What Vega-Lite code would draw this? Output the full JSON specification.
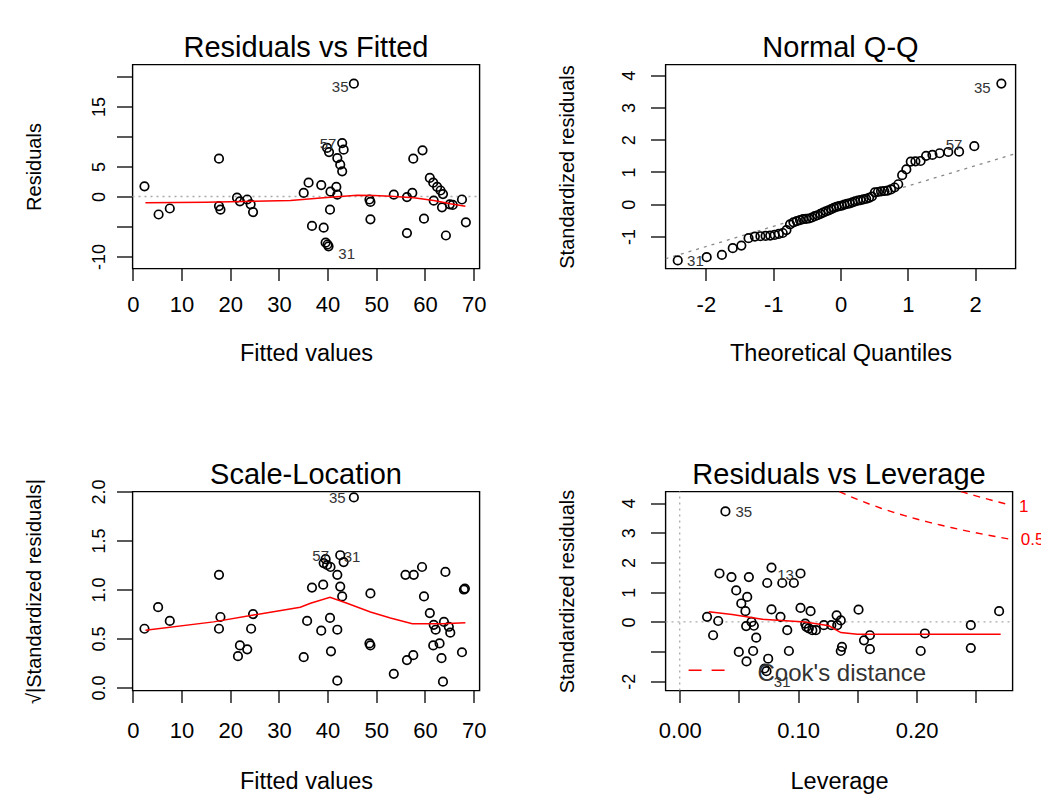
{
  "$schema": "https://vega.github.io/schema/vega-lite/v6.json",
  "background": "white",
  "padding": {"left": 23.5, "top": 32.5, "right": 0, "bottom": 0},
  "columns": 2,
  "spacing": {"row": 223, "column": 186},
  "bounds": "flush",
  "datasets": {
    "rvf": [
      {"fitted": 2.4, "resid": 1.7}, {"fitted": 5.3, "resid": -3.0}, {"fitted": 7.6, "resid": -2.0}, {"fitted": 17.7, "resid": 6.3},
      {"fitted": 17.7, "resid": -1.6}, {"fitted": 18.0, "resid": -2.2}, {"fitted": 21.4, "resid": -0.2}, {"fitted": 22.0, "resid": -0.8},
      {"fitted": 23.5, "resid": -0.5}, {"fitted": 24.2, "resid": -1.3}, {"fitted": 24.7, "resid": -2.6},
      {"fitted": 45.4, "resid": 18.8}, {"fitted": 39.9, "resid": 8.1}, {"fitted": 40.3, "resid": 7.4}, {"fitted": 43.0, "resid": 8.9},
      {"fitted": 43.3, "resid": 7.8}, {"fitted": 42.0, "resid": 6.4}, {"fitted": 42.6, "resid": 5.3}, {"fitted": 43.0, "resid": 4.2},
      {"fitted": 36.1, "resid": 2.3}, {"fitted": 35.1, "resid": 0.6}, {"fitted": 38.7, "resid": 1.9}, {"fitted": 41.8, "resid": 1.6},
      {"fitted": 40.6, "resid": 0.8}, {"fitted": 42.0, "resid": 0.3}, {"fitted": 40.5, "resid": -2.2},
      {"fitted": 36.8, "resid": -4.9}, {"fitted": 39.2, "resid": -5.2}, {"fitted": 39.6, "resid": -7.7}, {"fitted": 40.0, "resid": -8.0},
      {"fitted": 40.2, "resid": -8.3},
      {"fitted": 48.6, "resid": -0.5}, {"fitted": 48.8, "resid": -0.9}, {"fitted": 48.8, "resid": -3.8},
      {"fitted": 53.6, "resid": 0.3}, {"fitted": 56.3, "resid": -0.1}, {"fitted": 57.4, "resid": 0.6}, {"fitted": 56.3, "resid": -6.1},
      {"fitted": 57.6, "resid": 6.3}, {"fitted": 59.5, "resid": 7.7}, {"fitted": 59.8, "resid": -3.7}, {"fitted": 61.0, "resid": 3.1},
      {"fitted": 61.7, "resid": 2.3}, {"fitted": 62.5, "resid": 1.6}, {"fitted": 63.2, "resid": 1.0}, {"fitted": 63.7, "resid": 0.4},
      {"fitted": 61.8, "resid": -0.7}, {"fitted": 63.5, "resid": -1.8}, {"fitted": 65.1, "resid": -1.3}, {"fitted": 65.7, "resid": -1.4},
      {"fitted": 64.3, "resid": -6.5}, {"fitted": 67.6, "resid": -0.5}, {"fitted": 68.4, "resid": -4.3}
    ],
    "rvf_zero": [{"fitted": -0.06, "resid": 0}, {"fitted": 71.2, "resid": 0}],
    "rvf_smooth": [
      {"fitted": 2.6, "resid": -1.05}, {"fitted": 15, "resid": -0.95}, {"fitted": 25, "resid": -0.8}, {"fitted": 32.4, "resid": -0.67},
      {"fitted": 39.2, "resid": -0.22}, {"fitted": 46.1, "resid": 0.22}, {"fitted": 49.5, "resid": 0.17}, {"fitted": 52.9, "resid": 0.06},
      {"fitted": 57.7, "resid": -0.22}, {"fitted": 61.8, "resid": -0.67}, {"fitted": 65.2, "resid": -1.22}, {"fitted": 68.3, "resid": -1.61}
    ],
    "rvf_lab_r": [{"fitted": 44.3, "resid": 18.33, "label": "35"}, {"fitted": 41.8, "resid": 8.83, "label": "57"}],
    "rvf_lab_l": [{"fitted": 42.2, "resid": -9.5, "label": "31"}],
    "qq": [
      {"q": -2.418, "s": -1.74}, {"q": -1.988, "s": -1.64}, {"q": -1.762, "s": -1.57}, {"q": -1.601, "s": -1.36},
      {"q": -1.473, "s": -1.28}, {"q": -1.366, "s": -1.05}, {"q": -1.272, "s": -1.0}, {"q": -1.19, "s": -0.99},
      {"q": -1.113, "s": -0.98}, {"q": -1.044, "s": -0.97}, {"q": -0.978, "s": -0.95}, {"q": -0.916, "s": -0.92},
      {"q": -0.858, "s": -0.89}, {"q": -0.803, "s": -0.8}, {"q": -0.75, "s": -0.62}, {"q": -0.699, "s": -0.56},
      {"q": -0.65, "s": -0.52}, {"q": -0.602, "s": -0.49}, {"q": -0.556, "s": -0.46}, {"q": -0.511, "s": -0.45},
      {"q": -0.467, "s": -0.44}, {"q": -0.424, "s": -0.41}, {"q": -0.381, "s": -0.37}, {"q": -0.34, "s": -0.34},
      {"q": -0.298, "s": -0.3}, {"q": -0.258, "s": -0.26}, {"q": -0.217, "s": -0.22}, {"q": -0.177, "s": -0.19},
      {"q": -0.137, "s": -0.15}, {"q": -0.098, "s": -0.11}, {"q": -0.059, "s": -0.08}, {"q": -0.02, "s": -0.06},
      {"q": 0.02, "s": -0.04}, {"q": 0.059, "s": -0.01}, {"q": 0.098, "s": 0.01}, {"q": 0.137, "s": 0.03},
      {"q": 0.177, "s": 0.06}, {"q": 0.217, "s": 0.09}, {"q": 0.258, "s": 0.11}, {"q": 0.298, "s": 0.13},
      {"q": 0.34, "s": 0.15}, {"q": 0.381, "s": 0.17}, {"q": 0.424, "s": 0.2}, {"q": 0.467, "s": 0.24},
      {"q": 0.511, "s": 0.37}, {"q": 0.556, "s": 0.38}, {"q": 0.602, "s": 0.4}, {"q": 0.65, "s": 0.41},
      {"q": 0.699, "s": 0.42}, {"q": 0.75, "s": 0.46}, {"q": 0.803, "s": 0.52}, {"q": 0.858, "s": 0.62},
      {"q": 0.916, "s": 0.9}, {"q": 0.978, "s": 1.08}, {"q": 1.044, "s": 1.32}, {"q": 1.113, "s": 1.33},
      {"q": 1.19, "s": 1.34}, {"q": 1.272, "s": 1.5}, {"q": 1.366, "s": 1.53}, {"q": 1.473, "s": 1.58},
      {"q": 1.601, "s": 1.62}, {"q": 1.762, "s": 1.63}, {"q": 1.988, "s": 1.8}, {"q": 2.39, "s": 3.74}
    ],
    "qq_line": [{"q": -2.6, "s": -1.688}, {"q": 2.6, "s": 1.568}],
    "qq_lab_r": [{"q": 2.23, "s": 3.6, "label": "35"}, {"q": 1.81, "s": 1.83, "label": "57"}],
    "qq_lab_l": [{"q": -2.28, "s": -1.76, "label": "31"}],
    "sl": [
      {"fitted": 2.4, "root": 0.6}, {"fitted": 5.2, "root": 0.82}, {"fitted": 7.6, "root": 0.68}, {"fitted": 17.7, "root": 1.15},
      {"fitted": 18.0, "root": 0.72}, {"fitted": 17.7, "root": 0.6}, {"fitted": 24.7, "root": 0.75}, {"fitted": 24.3, "root": 0.6},
      {"fitted": 22.0, "root": 0.43}, {"fitted": 23.5, "root": 0.39}, {"fitted": 21.6, "root": 0.32},
      {"fitted": 45.4, "root": 1.94}, {"fitted": 39.2, "root": 1.27}, {"fitted": 39.9, "root": 1.25}, {"fitted": 40.6, "root": 1.23},
      {"fitted": 42.6, "root": 1.35}, {"fitted": 43.3, "root": 1.28}, {"fitted": 39.6, "root": 1.31}, {"fitted": 42.0, "root": 1.15},
      {"fitted": 36.8, "root": 1.02}, {"fitted": 39.1, "root": 1.05}, {"fitted": 42.6, "root": 1.03}, {"fitted": 43.0, "root": 0.93},
      {"fitted": 48.8, "root": 0.96}, {"fitted": 35.8, "root": 0.68}, {"fitted": 40.5, "root": 0.71}, {"fitted": 38.7, "root": 0.58},
      {"fitted": 42.0, "root": 0.59}, {"fitted": 35.1, "root": 0.31}, {"fitted": 40.7, "root": 0.37}, {"fitted": 42.0, "root": 0.07},
      {"fitted": 48.6, "root": 0.45}, {"fitted": 48.8, "root": 0.43},
      {"fitted": 53.6, "root": 0.14}, {"fitted": 56.0, "root": 1.15}, {"fitted": 57.7, "root": 1.15}, {"fitted": 59.4, "root": 1.23},
      {"fitted": 64.2, "root": 1.18}, {"fitted": 68.0, "root": 1.0}, {"fitted": 68.2, "root": 1.01}, {"fitted": 59.8, "root": 0.93},
      {"fitted": 61.0, "root": 0.76}, {"fitted": 56.3, "root": 0.28}, {"fitted": 57.6, "root": 0.33}, {"fitted": 61.8, "root": 0.64},
      {"fitted": 62.2, "root": 0.59}, {"fitted": 63.9, "root": 0.67}, {"fitted": 64.9, "root": 0.62}, {"fitted": 65.2, "root": 0.56},
      {"fitted": 61.7, "root": 0.43}, {"fitted": 63.0, "root": 0.45}, {"fitted": 63.4, "root": 0.3}, {"fitted": 67.6, "root": 0.36},
      {"fitted": 63.7, "root": 0.06}
    ],
    "sl_smooth": [
      {"fitted": 2.6, "root": 0.585}, {"fitted": 16.6, "root": 0.67}, {"fitted": 24.8, "root": 0.74}, {"fitted": 34.4, "root": 0.82},
      {"fitted": 36.5, "root": 0.86}, {"fitted": 40.5, "root": 0.92}, {"fitted": 44.0, "root": 0.86}, {"fitted": 48.8, "root": 0.77},
      {"fitted": 52.9, "root": 0.71}, {"fitted": 57.4, "root": 0.65}, {"fitted": 63.5, "root": 0.65}, {"fitted": 68.3, "root": 0.66}
    ],
    "sl_lab_r": [{"fitted": 43.7, "root": 1.93, "label": "35"}, {"fitted": 40.3, "root": 1.34, "label": "57"}],
    "sl_lab_l": [{"fitted": 43.3, "root": 1.33, "label": "31"}],
    "rvl": [
      {"lev": 0.0386, "std": 3.72}, {"lev": 0.0336, "std": 1.63}, {"lev": 0.0437, "std": 1.51}, {"lev": 0.0584, "std": 1.51},
      {"lev": 0.0775, "std": 1.83}, {"lev": 0.0739, "std": 1.31}, {"lev": 0.0866, "std": 1.31}, {"lev": 0.0964, "std": 1.31},
      {"lev": 0.102, "std": 1.63}, {"lev": 0.0477, "std": 1.06}, {"lev": 0.057, "std": 0.84}, {"lev": 0.052, "std": 0.62},
      {"lev": 0.0555, "std": 0.36}, {"lev": 0.0231, "std": 0.17}, {"lev": 0.0325, "std": 0.03}, {"lev": 0.0282, "std": -0.45},
      {"lev": 0.0561, "std": -0.14}, {"lev": 0.0606, "std": 0.0}, {"lev": 0.0626, "std": -0.13}, {"lev": 0.0646, "std": -0.53},
      {"lev": 0.0775, "std": 0.42}, {"lev": 0.0851, "std": 0.17}, {"lev": 0.0908, "std": -0.28}, {"lev": 0.102, "std": 0.47},
      {"lev": 0.1105, "std": 0.36}, {"lev": 0.106, "std": -0.06}, {"lev": 0.109, "std": -0.22}, {"lev": 0.112, "std": -0.28},
      {"lev": 0.115, "std": -0.28}, {"lev": 0.107, "std": -0.17}, {"lev": 0.1325, "std": 0.22}, {"lev": 0.136, "std": 0.05},
      {"lev": 0.133, "std": -0.11}, {"lev": 0.1217, "std": -0.11}, {"lev": 0.128, "std": -0.11}, {"lev": 0.151, "std": 0.41},
      {"lev": 0.1556, "std": -0.62}, {"lev": 0.1606, "std": -0.45}, {"lev": 0.1606, "std": -0.92}, {"lev": 0.137, "std": -0.84},
      {"lev": 0.136, "std": -0.98}, {"lev": 0.207, "std": -0.39}, {"lev": 0.2035, "std": -0.98}, {"lev": 0.2458, "std": -0.11},
      {"lev": 0.2458, "std": -0.88}, {"lev": 0.2697, "std": 0.36}, {"lev": 0.0499, "std": -1.01}, {"lev": 0.062, "std": -0.98},
      {"lev": 0.0564, "std": -1.33}, {"lev": 0.0747, "std": -1.24}, {"lev": 0.0922, "std": -0.98}, {"lev": 0.0716, "std": -1.57},
      {"lev": 0.0733, "std": -1.66}
    ],
    "rvl_h0": [{"lev": -0.012, "std": 0}, {"lev": 0.281, "std": 0}],
    "rvl_v0": [{"lev": 0, "std": -2.31}, {"lev": 0, "std": 4.39}],
    "rvl_smooth": [
      {"lev": 0.0245, "std": 0.34}, {"lev": 0.0443, "std": 0.25}, {"lev": 0.0697, "std": 0.09}, {"lev": 0.106, "std": 0.0},
      {"lev": 0.126, "std": -0.13}, {"lev": 0.136, "std": -0.36}, {"lev": 0.15, "std": -0.42}, {"lev": 0.271, "std": -0.42}
    ],
    "cook": [
      {"level": "0.5", "lev": 0.1347, "std": 4.39}, {"level": "0.5", "lev": 0.14, "std": 4.293}, {"level": "0.5", "lev": 0.15, "std": 4.123},
      {"level": "0.5", "lev": 0.16, "std": 3.969}, {"level": "0.5", "lev": 0.17, "std": 3.827}, {"level": "0.5", "lev": 0.18, "std": 3.697},
      {"level": "0.5", "lev": 0.19, "std": 3.576}, {"level": "0.5", "lev": 0.2, "std": 3.464}, {"level": "0.5", "lev": 0.21, "std": 3.36},
      {"level": "0.5", "lev": 0.22, "std": 3.261}, {"level": "0.5", "lev": 0.23, "std": 3.169}, {"level": "0.5", "lev": 0.24, "std": 3.082},
      {"level": "0.5", "lev": 0.25, "std": 3.0}, {"level": "0.5", "lev": 0.26, "std": 2.922}, {"level": "0.5", "lev": 0.27, "std": 2.848},
      {"level": "0.5", "lev": 0.278, "std": 2.791},
      {"level": "1", "lev": 0.2374, "std": 4.39}, {"level": "1", "lev": 0.24, "std": 4.359}, {"level": "1", "lev": 0.25, "std": 4.243},
      {"level": "1", "lev": 0.26, "std": 4.133}, {"level": "1", "lev": 0.27, "std": 4.028}, {"level": "1", "lev": 0.278, "std": 3.947}
    ],
    "cook_lab": [{"lev": 0.2864, "std": 3.88, "label": "1"}, {"lev": 0.288, "std": 2.77, "label": "0.5"}],
    "cook_key": [{"lev": 0.0075, "std": -1.63}, {"lev": 0.04, "std": -1.63}],
    "cook_key_text": [{"lev": 0.0657, "std": -1.74, "label": "Cook's distance"}],
    "rvl_lab": [{"lev": 0.0471, "std": 3.7, "label": "35"}, {"lev": 0.0823, "std": 1.59, "label": "13"}, {"lev": 0.0795, "std": -2.02, "label": "31"}]
  },
  "concat": [
    {
      "width": 347, "height": 204,
      "title": {"text": "Residuals vs Fitted", "dy": 7},
      "encoding": {
        "x": {"field": "fitted", "type": "quantitative", "title": "Fitted values",
              "scale": {"domain": [-0.06, 71.2], "nice": false, "zero": false},
              "axis": {"values": [0, 10, 20, 30, 40, 50, 60, 70], "labelPadding": 31, "titleY": 91.5}},
        "y": {"field": "resid", "type": "quantitative", "title": "Residuals",
              "scale": {"domain": [-12, 22], "nice": false, "zero": false},
              "axis": {"values": [-10, -5, 0, 5, 10, 15, 20], "tickSize": 16, "labelPadding": 12.5,
                       "labelExpr": "indexof([15, 5, 0, -10], datum.value) >= 0 ? '' + datum.value : ''"}}
      },
      "layer": [
        {"data": {"name": "rvf_zero"}, "mark": {"type": "line", "color": "#aaaaaa", "strokeDash": [2, 4], "strokeWidth": 1.3}},
        {"data": {"name": "rvf"}, "mark": {"type": "point", "shape": "circle", "filled": false, "color": "black", "size": 72, "strokeWidth": 1.7, "opacity": 1}},
        {"data": {"name": "rvf_smooth"}, "mark": {"type": "line", "color": "red", "strokeWidth": 1.5}},
        {"data": {"name": "rvf_lab_r"}, "mark": {"type": "text", "align": "right", "baseline": "middle", "fontSize": 15, "color": "#333333"}, "encoding": {"text": {"field": "label"}}},
        {"data": {"name": "rvf_lab_l"}, "mark": {"type": "text", "align": "left", "baseline": "middle", "fontSize": 15, "color": "#333333"}, "encoding": {"text": {"field": "label"}}}
      ]
    },
    {
      "width": 350, "height": 204,
      "title": {"text": "Normal Q-Q", "dy": 7},
      "encoding": {
        "x": {"field": "q", "type": "quantitative", "title": "Theoretical Quantiles",
              "scale": {"domain": [-2.6, 2.6], "nice": false, "zero": false},
              "axis": {"values": [-2, -1, 0, 1, 2], "labelPadding": 31, "titleY": 91.5, "labelExpr": "'' + datum.value"}},
        "y": {"field": "s", "type": "quantitative", "title": "Standardized residuals",
              "scale": {"domain": [-1.99, 4.33], "nice": false, "zero": false},
              "axis": {"values": [-1, 0, 1, 2, 3, 4], "tickSize": 15, "labelPadding": 16.5, "labelExpr": "'' + datum.value"}}
      },
      "layer": [
        {"data": {"name": "qq_line"}, "mark": {"type": "line", "color": "#888888", "strokeDash": [3, 5], "strokeWidth": 1.3, "clip": true}},
        {"data": {"name": "qq"}, "mark": {"type": "point", "shape": "circle", "filled": false, "color": "black", "size": 72, "strokeWidth": 1.7, "opacity": 1}},
        {"data": {"name": "qq_lab_r"}, "mark": {"type": "text", "align": "right", "baseline": "middle", "fontSize": 15, "color": "#333333"}, "encoding": {"text": {"field": "label"}}},
        {"data": {"name": "qq_lab_l"}, "mark": {"type": "text", "align": "left", "baseline": "middle", "fontSize": 15, "color": "#333333"}, "encoding": {"text": {"field": "label"}}}
      ]
    },
    {
      "width": 347, "height": 199,
      "title": {"text": "Scale-Location", "dy": 20},
      "encoding": {
        "x": {"field": "fitted", "type": "quantitative", "title": "Fitted values",
              "scale": {"domain": [-0.06, 71.2], "nice": false, "zero": false},
              "axis": {"values": [0, 10, 20, 30, 40, 50, 60, 70], "labelPadding": 35, "titleY": 97.5}},
        "y": {"field": "root", "type": "quantitative", "title": "√|Standardized residuals|",
              "scale": {"domain": [-0.03, 2.0], "nice": false, "zero": false},
              "axis": {"values": [0, 0.5, 1, 1.5, 2], "format": ".1f", "tickSize": 16, "labelPadding": 12.5}}
      },
      "layer": [
        {"data": {"name": "sl"}, "mark": {"type": "point", "shape": "circle", "filled": false, "color": "black", "size": 72, "strokeWidth": 1.7, "opacity": 1}},
        {"data": {"name": "sl_smooth"}, "mark": {"type": "line", "color": "red", "strokeWidth": 1.5}},
        {"data": {"name": "sl_lab_r"}, "mark": {"type": "text", "align": "right", "baseline": "middle", "fontSize": 15, "color": "#333333"}, "encoding": {"text": {"field": "label"}}},
        {"data": {"name": "sl_lab_l"}, "mark": {"type": "text", "align": "left", "baseline": "middle", "fontSize": 15, "color": "#333333"}, "encoding": {"text": {"field": "label"}}}
      ]
    },
    {
      "width": 347, "height": 199,
      "title": {"text": "Residuals vs Leverage", "dy": 10},
      "encoding": {
        "x": {"field": "lev", "type": "quantitative", "title": "Leverage",
              "scale": {"domain": [-0.012, 0.281], "nice": false, "zero": false},
              "axis": {"values": [0, 0.05, 0.1, 0.15, 0.2, 0.25], "labelPadding": 35, "titleY": 97.5,
                       "labelExpr": "indexof([0, 0.1, 0.2], datum.value) >= 0 ? format(datum.value, '.2f') : ''"}},
        "y": {"field": "std", "type": "quantitative", "title": "Standardized residuals",
              "scale": {"domain": [-2.31, 4.39], "nice": false, "zero": false},
              "axis": {"values": [-2, -1, 0, 1, 2, 3, 4], "tickSize": 15, "labelPadding": 16.5,
                       "labelExpr": "datum.value == -1 ? '' : '' + datum.value"}}
      },
      "layer": [
        {"data": {"name": "rvl_h0"}, "mark": {"type": "line", "color": "#aaaaaa", "strokeDash": [2, 4], "strokeWidth": 1.3}},
        {"data": {"name": "rvl_v0"}, "mark": {"type": "line", "color": "#aaaaaa", "strokeDash": [2, 4], "strokeWidth": 1.3}},
        {"data": {"name": "rvl"}, "mark": {"type": "point", "shape": "circle", "filled": false, "color": "black", "size": 72, "strokeWidth": 1.7, "opacity": 1}},
        {"data": {"name": "rvl_smooth"}, "mark": {"type": "line", "color": "red", "strokeWidth": 1.5}},
        {"data": {"name": "cook"}, "mark": {"type": "line", "color": "red", "strokeDash": [7, 6], "strokeWidth": 1.4, "clip": true}, "encoding": {"detail": {"field": "level"}}},
        {"data": {"name": "cook_lab"}, "mark": {"type": "text", "align": "left", "baseline": "middle", "fontSize": 17, "color": "red"}, "encoding": {"text": {"field": "label"}}},
        {"data": {"name": "cook_key"}, "mark": {"type": "line", "color": "red", "strokeDash": [13, 10], "strokeWidth": 1.5}},
        {"data": {"name": "cook_key_text"}, "mark": {"type": "text", "align": "left", "baseline": "middle", "fontSize": 24, "color": "#333333"}, "encoding": {"text": {"field": "label"}}},
        {"data": {"name": "rvl_lab"}, "mark": {"type": "text", "align": "left", "baseline": "middle", "fontSize": 15, "color": "#333333"}, "encoding": {"text": {"field": "label"}}}
      ]
    }
  ],
  "config": {
    "font": "Liberation Sans",
    "view": {"stroke": "black", "strokeWidth": 1.4},
    "axis": {"grid": false, "domain": false, "ticks": true, "tickColor": "black", "tickWidth": 1.3,
             "labelColor": "black", "titleColor": "black", "titleFontWeight": "normal",
             "labelFont": "Liberation Sans", "titleFont": "Liberation Sans", "labelOverlap": false, "labelFlush": false},
    "axisX": {"tickSize": 12, "labelFontSize": 22, "titleFontSize": 23.5, "labelBaseline": "alphabetic", "titleBaseline": "alphabetic"},
    "axisY": {"labelFontSize": 18, "titleFontSize": 20, "labelAngle": -90, "labelAlign": "center", "labelBaseline": "alphabetic",
              "titleBaseline": "alphabetic", "titleX": -92, "titleAngle": -90},
    "title": {"fontSize": 29, "fontWeight": "normal", "color": "black", "baseline": "alphabetic", "offset": 9, "frame": "group", "anchor": "middle", "font": "Liberation Sans"}
  }
}
